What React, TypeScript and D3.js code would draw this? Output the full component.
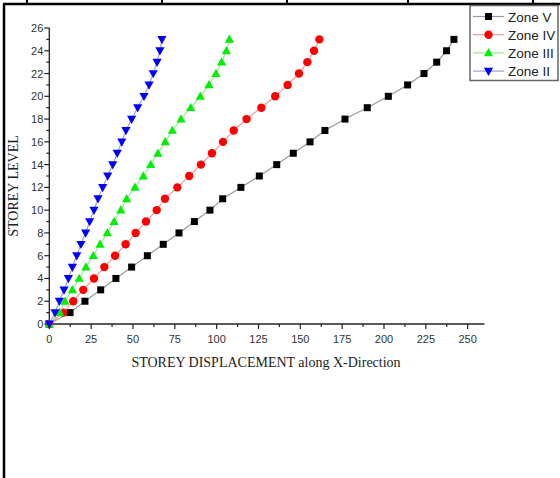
import React from "react";
import * as d3 from "d3";

const levels = [0, 1, 2, 3, 4, 5, 6, 7, 8, 9, 10, 11, 12, 13, 14, 15, 16, 17, 18, 19, 20, 21, 22, 23, 24, 25];
const zoneV = [0, 12.4, 21.3, 30.7, 39.8, 49.2, 58.6, 68.1, 77.5, 86.7, 96, 103.6, 114.5, 125.5, 135.9, 145.8, 155.8, 164.7, 176.7, 190, 202.6, 214.1, 223.9, 231.5, 237.4, 241.8];
const zoneIV = [0, 8.4, 14.3, 20.3, 26.7, 32.9, 39.3, 45.6, 51.6, 57.8, 64.2, 69.1, 76.5, 83.6, 90.6, 97.2, 103.8, 110.2, 117.9, 126.7, 135.0, 142.4, 149.2, 154.2, 158.2, 161.4];
const zoneIII = [0, 6.2, 9.4, 13.8, 17.9, 21.9, 26.3, 30.3, 34.7, 38.7, 42.7, 46.2, 51.2, 56.2, 60.6, 64.9, 69.3, 73.5, 78.7, 84.5, 90.2, 95.4, 99.6, 103, 105.8, 107.6];
const zoneII = [0, 3.4, 6, 8.8, 11.4, 13.8, 16.4, 18.9, 21.7, 24.1, 26.7, 29.1, 31.9, 34.9, 37.9, 40.6, 43.3, 45.8, 49.2, 52.8, 56.6, 59.6, 62.1, 64.4, 66.1, 67.3];
const seriesNames = ["Zone V", "Zone IV", "Zone III", "Zone II"];
const xTicks = [0, 25, 50, 75, 100, 125, 150, 175, 200, 225, 250];
const yTicks = [0, 2, 4, 6, 8, 10, 12, 14, 16, 18, 20, 22, 24, 26];

const seriesValues = [zoneV, zoneIV, zoneIII, zoneII];
const markerColors = ["#000000", "#ff0000", "#00ee00", "#0000ff"];
const lineColors = ["#999999", "#f29a9a", "#9be69b", "#9f9fef"];
const markerShapes = ["square", "circle", "triangle", "invtriangle"];

function Marker({ shape, x, y, color }: { shape: string; x: number; y: number; color: string }) {
  if (shape === "square") return <rect x={x - 3.5} y={y - 3.5} width={7} height={7} fill={color} />;
  if (shape === "circle") return <circle cx={x} cy={y} r={4.2} fill={color} />;
  if (shape === "triangle")
    return <path d={`M${x},${y - 4.8}L${x + 4.6},${y + 3.4}L${x - 4.6},${y + 3.4}Z`} fill={color} />;
  return <path d={`M${x},${y + 4.8}L${x + 4.6},${y - 3.4}L${x - 4.6},${y - 3.4}Z`} fill={color} />;
}

export default function App() {
  const x = d3.scaleLinear().domain([0, 260]).range([49.3, 484.4]);
  const y = d3.scaleLinear().domain([0, 26]).range([324, 28]);
  const xMinor = d3.range(12.5, 260, 25);
  const yMinor = d3.range(1, 26, 2);
  const tickFont = "'Liberation Sans', Arial, sans-serif";
  const serif = "'Liberation Serif', 'Times New Roman', serif";
  const axisColor = "#222";

  return (
    <svg width={560} height={478} style={{ position: "absolute", left: 0, top: 0, background: "#fff" }}>
      {/* table borders */}
      <line x1={3} x2={560} y1={4} y2={4} stroke="#000" strokeWidth={2.5} />
      {[27, 162, 287, 408, 533].map((bx) => (
        <line key={bx} x1={bx} x2={bx} y1={0} y2={4} stroke="#000" strokeWidth={2} />
      ))}
      <line x1={4} x2={4} y1={4} y2={478} stroke="#000" strokeWidth={2.5} />

      {/* axes */}
      <line x1={x(0)} x2={x(260)} y1={y(0)} y2={y(0)} stroke={axisColor} strokeWidth={1.3} />
      <line x1={x(0)} x2={x(0)} y1={y(0)} y2={y(26)} stroke={axisColor} strokeWidth={1.3} />
      {xTicks.map((t) => (
        <g key={"xt" + t}>
          <line x1={x(t)} x2={x(t)} y1={y(0)} y2={y(0) + 5} stroke={axisColor} strokeWidth={1.2} />
          <text x={x(t)} y={y(0) + 19} textAnchor="middle" fontFamily={tickFont} fontSize={11} fill="#333">
            {t}
          </text>
        </g>
      ))}
      {xMinor.map((t) => (
        <line key={"xm" + t} x1={x(t)} x2={x(t)} y1={y(0)} y2={y(0) + 3} stroke={axisColor} strokeWidth={1.2} />
      ))}
      {yTicks.map((t) => (
        <g key={"yt" + t}>
          <line x1={x(0) - 5} x2={x(0)} y1={y(t)} y2={y(t)} stroke={axisColor} strokeWidth={1.2} />
          <text x={x(0) - 6} y={y(t) + 4} textAnchor="end" fontFamily={tickFont} fontSize={11} fill="#333">
            {t}
          </text>
        </g>
      ))}
      {yMinor.map((t) => (
        <line key={"ym" + t} x1={x(0) - 3} x2={x(0)} y1={y(t)} y2={y(t)} stroke={axisColor} strokeWidth={1.2} />
      ))}

      {/* axis titles */}
      <text x={266} y={367} textAnchor="middle" fontFamily={serif} fontSize={14} fill="#222">
        STOREY DISPLACEMENT along X-Direction
      </text>
      <text
        transform={`translate(18,${186}) rotate(-90)`}
        textAnchor="middle"
        fontFamily={serif}
        fontSize={14}
        fill="#222"
      >
        STOREY LEVEL
      </text>

      {/* series */}
      {seriesValues.map((vals, si) => {
        const line = d3
          .line<number>()
          .x((v) => x(v))
          .y((_, i) => y(levels[i]));
        return (
          <g key={"s" + si}>
            <path d={line(vals) || ""} fill="none" stroke={lineColors[si]} strokeWidth={1.2} />
            {vals.map((v, i) => (
              <Marker key={i} shape={markerShapes[si]} x={x(v)} y={y(levels[i])} color={markerColors[si]} />
            ))}
          </g>
        );
      })}

      {/* legend */}
      <rect x={470} y={5.5} width={88} height={75} fill="#fff" stroke="#666" strokeWidth={1.5} />
      {seriesNames.map((name, i) => {
        const ly = 16.5 + i * 18.2;
        return (
          <g key={name}>
            <line x1={473} x2={504} y1={ly} y2={ly} stroke={lineColors[i]} strokeWidth={1.2} />
            <Marker shape={markerShapes[i]} x={488.5} y={ly} color={markerColors[i]} />
            <text x={508} y={ly + 5} fontFamily={tickFont} fontSize={13.5} fill="#222">
              {name}
            </text>
          </g>
        );
      })}
    </svg>
  );
}
